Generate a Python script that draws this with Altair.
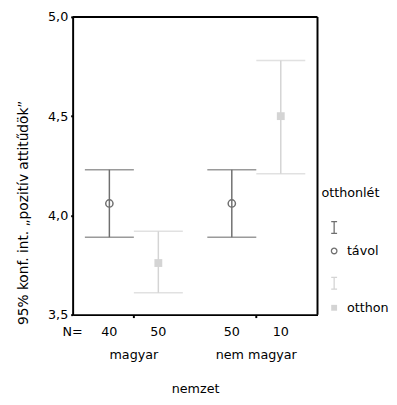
import altair as alt
import pandas as pd

# data
nemzet = ["magyar", "magyar", "nem magyar", "nem magyar"]
otthonlet = ["távol", "otthon", "távol", "otthon"]
mean_vals = [4.06, 3.76, 4.06, 4.50]
lower_vals = [3.89, 3.61, 3.89, 4.21]
upper_vals = [4.23, 3.92, 4.23, 4.78]
n_vals = [40, 50, 50, 10]
groups = ["magyar", "nem magyar"]
series = ["távol", "otthon"]
series_colors = ["#6f6f6f", "#d4d4d4"]
y_ticks = [3.5, 4.0, 4.5, 5.0]

W, H = 250, 304

df = pd.DataFrame({
    "nemzet": nemzet,
    "otthonlet": otthonlet,
    "mean": mean_vals,
    "lower": lower_vals,
    "upper": upper_vals,
    "n": n_vals,
})
leg_df = pd.DataFrame({"label": series, "title": ["otthonlét", "otthonlét"]})

FONT = "DejaVu Sans"

x = alt.X(
    "nemzet:N",
    sort=groups,
    scale=alt.Scale(domain=groups, paddingInner=0, paddingOuter=0),
    axis=alt.Axis(
        title="nemzet", labelAngle=0, labelPadding=32, tickSize=3, tickWidth=2,
        tickColor="black", domainColor="black", domainWidth=2,
        bandPosition=0.5, labelFont=FONT, labelFontSize=13, labelColor="black",
        titleFont=FONT, titleFontSize=13, titleFontWeight="normal", titleColor="black",
        titleY=75, titleBaseline="middle",
    ),
)
xo = alt.XOffset(
    "otthonlet:N",
    sort=series,
    scale=alt.Scale(domain=series, paddingOuter=0.25, paddingInner=0),
)
y_scale = alt.Scale(domain=[3.5, 5.0], nice=False, zero=False)
color = alt.Color("otthonlet:N", scale=alt.Scale(domain=series, range=series_colors), legend=None)

y_axis = alt.Axis(
    title="95% konf. int. „pozitív attitűdök”", values=y_ticks,
    labelExpr="replace(format(datum.value, '.1f'), '.', ',')",
    tickSize=2, tickWidth=2, tickColor="black", domainColor="black", domainWidth=2,
    grid=False, labelFont=FONT, labelFontSize=13, labelColor="black", labelPadding=3,
    titleFont=FONT, titleFontSize=14, titleFontWeight="normal", titleColor="black",
    titleAngle=270, titleAlign="left", titleBaseline="middle", titleX=-50, titleY=314,
)

base = alt.Chart(df)

rules = base.mark_rule(strokeWidth=1.5).encode(
    x=x, xOffset=xo,
    y=alt.Y("lower:Q", scale=y_scale, axis=y_axis),
    y2="upper:Q", color=color,
)
cap_hi = base.mark_tick(size=50, thickness=1.5).encode(
    x=x, xOffset=xo, y=alt.Y("upper:Q", scale=y_scale), color=color)
cap_lo = base.mark_tick(size=50, thickness=1.5).encode(
    x=x, xOffset=xo, y=alt.Y("lower:Q", scale=y_scale), color=color)
circles = base.transform_filter(alt.datum.otthonlet == "távol").mark_point(
    shape="circle", filled=False, size=55, strokeWidth=1.5, opacity=1).encode(
    x=x, xOffset=xo, y=alt.Y("mean:Q", scale=y_scale), color=color)
squares = base.transform_filter(alt.datum.otthonlet == "otthon").mark_point(
    shape="square", filled=True, size=64, opacity=1).encode(
    x=x, xOffset=xo, y=alt.Y("mean:Q", scale=y_scale), color=color)
n_text = base.mark_text(font=FONT, fontSize=13, baseline="middle", color="black").encode(
    x=x, xOffset=xo, y=alt.value(322), text="n:Q")

leg = alt.Chart(leg_df)
one = leg.transform_filter(alt.datum.label == "távol")
frame_top = one.mark_rule(color="black", strokeWidth=2).encode(
    x=alt.value(0), x2=alt.value(W), y=alt.value(0))
frame_right = one.mark_rule(color="black", strokeWidth=2).encode(
    x=alt.value(W), y=alt.value(0), y2=alt.value(H))
n_eq = one.mark_text(
    font=FONT, fontSize=13, baseline="middle", align="center", color="black", text="N=").encode(
    x=alt.value(0), y=alt.value(322))
leg_title = one.mark_text(
    font=FONT, fontSize=13, baseline="middle", align="left", color="black").encode(
    x=alt.value(254), y=alt.value(180), text="title:N")
IBEAM = "M-0.5,-1H0.5M0,-1V1M-0.5,1H0.5"
ibeam_d = one.mark_point(
    shape=IBEAM, filled=False, size=144, strokeWidth=1.3, color=series_colors[0], opacity=1).encode(
    x=alt.value(267), y=alt.value(215))
circ_d = one.mark_point(
    shape="circle", filled=False, size=32, strokeWidth=1.3, color=series_colors[0], opacity=1).encode(
    x=alt.value(267), y=alt.value(239))
txt_d = one.mark_text(
    font=FONT, fontSize=13, baseline="middle", align="left", color="black").encode(
    x=alt.value(280), y=alt.value(239), text="label:N")
two = leg.transform_filter(alt.datum.label == "otthon")
ibeam_l = two.mark_point(
    shape=IBEAM, filled=False, size=144, strokeWidth=1.3, color=series_colors[1], opacity=1).encode(
    x=alt.value(267), y=alt.value(272))
sq_l = two.mark_point(
    shape="square", filled=True, size=36, color=series_colors[1], opacity=1).encode(
    x=alt.value(267), y=alt.value(297))
txt_l = two.mark_text(
    font=FONT, fontSize=13, baseline="middle", align="left", color="black").encode(
    x=alt.value(280), y=alt.value(297), text="label:N")

chart = alt.layer(
    rules, cap_hi, cap_lo, circles, squares, n_text,
    frame_top, frame_right,
    n_eq, leg_title, ibeam_d, circ_d, txt_d, ibeam_l, sq_l, txt_l,
).properties(
    width=W, height=H,
    autosize=alt.AutoSizeParams(type="none"),
    padding={"left": 66, "top": 5, "right": 73, "bottom": 80},
    background="white",
).configure_view(
    strokeWidth=0,
)

chart.save("out.html", embed_options={"renderer": "svg", "actions": False})
